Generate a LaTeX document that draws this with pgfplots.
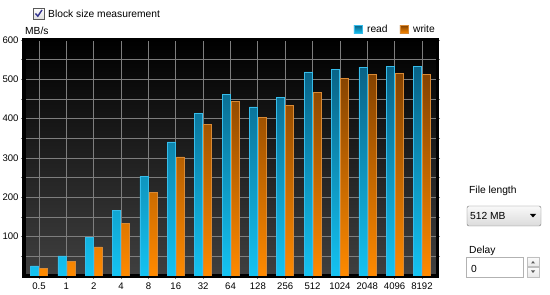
\documentclass[border=0pt]{standalone}
\usepackage{fontspec}
\setmainfont{Liberation Sans}
\usepackage{pgfplots}
\pgfplotsset{compat=1.18}
\definecolor{readtop}{HTML}{096286}
\definecolor{readbot}{HTML}{14C3F2}
\definecolor{readedge}{HTML}{36BDEB}
\definecolor{writetop}{HTML}{844200}
\definecolor{writebot}{HTML}{FF8A00}
\definecolor{writeedge}{HTML}{D98A35}
\definecolor{bgbot}{HTML}{404040}
\definecolor{gridc}{HTML}{7E7E7E}
\begin{document}
\begin{tikzpicture}[font=\fontsize{10.3}{12}\selectfont]
\path[use as bounding box] (0,0) rectangle (550bp,295bp);
\begin{axis}[
  at={(24bp,19bp)}, anchor=south west,
  scale only axis, width=413bp, height=236bp,
  xmin=-0.55, xmax=14.55, ymin=0, ymax=600,
  xtick={0,...,14},
  xticklabels={0.5,1,2,4,8,16,32,64,128,256,512,1024,2048,4096,8192},
  ytick={100,200,...,600},
  minor ytick={50,150,...,550},
  grid=both,
  major grid style={gridc, line width=0.8bp},
  minor grid style={gridc, line width=0.8bp},
  axis background/.style={top color=black, bottom color=bgbot},
  axis line style={black, line width=3bp},
  tick align=outside,
  xtick pos=left,
  major tick length=3bp, minor tick length=3bp,
  tick style={gridc, line width=0.8bp},
  ticklabel style={font=\fontsize{9.6}{10}\selectfont},
  yticklabel style={xshift=1bp},
  /pgf/number format/assume math mode=true,
  ybar=1bp, bar width=8bp,
  legend columns=2,
  legend style={at={(1,1)}, anchor=south east, draw=none, fill=none, inner sep=0pt, yshift=4bp,
    font=\fontsize{10.3}{12}\selectfont,
    /tikz/every odd column/.append style={column sep=3bp},
    /tikz/every even column/.append style={column sep=10bp}},
  legend image code/.code={\path[#1] (0bp,-4bp) rectangle (8bp,4bp);},
]
\addplot[draw=readedge, line width=0.5bp, top color=readtop, bottom color=readbot]
  coordinates {(0,26) (1,51) (2,98) (3,167) (4,254) (5,341) (6,413) (7,461) (8,430) (9,454) (10,519) (11,526) (12,531) (13,533) (14,533)};
\addlegendentry{read}
\addplot[draw=writeedge, line width=0.5bp, top color=writetop, bottom color=writebot]
  coordinates {(0,20) (1,38) (2,74) (3,134) (4,213) (5,303) (6,385) (7,444) (8,404) (9,433) (10,467) (11,502) (12,513) (13,515) (14,513)};
\addlegendentry{write}
\end{axis}
% MB/s label
\node[anchor=base west, inner sep=0pt] at (25bp,260bp) {MB/s};
% checkbox
\draw[gray!70!black, top color=white, bottom color=gray!25] (33bp,276bp) rectangle (44bp,287bp);
\draw[blue!45!black!80, line width=1.4bp] (35.5bp,281.5bp) -- (37.8bp,278.8bp) -- (42bp,285bp);
\node[anchor=base west, inner sep=0pt] at (48bp,277bp) {Block size measurement};
% File length
\node[anchor=base west, inner sep=0pt] at (469bp,101.5bp) {File length};
\draw[rounded corners=2bp, gray!90!black, top color=gray!5, bottom color=gray!28] (467bp,69bp) rectangle (541bp,89bp);
\node[anchor=base west, inner sep=0pt] at (470bp,75.5bp) {512 MB};
\fill[black] (530bp,81bp) -- (536bp,81bp) -- (533bp,77.5bp) -- cycle;
% Delay
\node[anchor=base west, inner sep=0pt] at (469bp,41bp) {Delay};
\draw[gray!60, fill=white] (466bp,18bp) rectangle (523bp,38bp);
\node[anchor=base west, inner sep=0pt] at (471bp,23bp) {0};
\draw[gray!50, top color=gray!3, bottom color=gray!18] (527bp,28.5bp) rectangle (539bp,38bp);
\draw[gray!50, top color=gray!3, bottom color=gray!18] (527bp,18bp) rectangle (539bp,27.5bp);
\fill[gray!70!black] (531bp,31.5bp) -- (535bp,31.5bp) -- (533bp,34bp) -- cycle;
\fill[gray!70!black] (531bp,24.5bp) -- (535bp,24.5bp) -- (533bp,22bp) -- cycle;
\end{tikzpicture}
\end{document}
